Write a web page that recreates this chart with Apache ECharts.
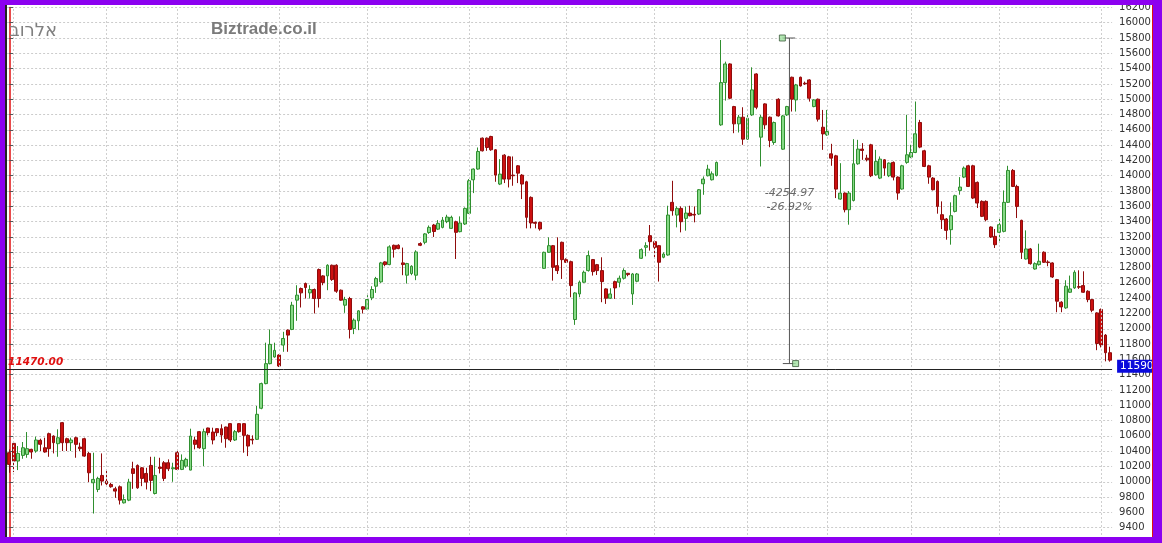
<!DOCTYPE html>
<html><head><meta charset="utf-8">
<script src="https://cdn.jsdelivr.net/npm/echarts@6/dist/echarts.min.js"></script>
<style>
html,body{margin:0;padding:0;background:#fff;}
#wrap{position:relative;width:1162px;height:543px;overflow:hidden;}
#chart{position:absolute;left:0;top:0;width:1162px;height:543px;}
#frame{position:absolute;left:0;top:0;width:1162px;height:543px;box-sizing:border-box;border-style:solid;border-color:#8c00f0;border-width:5px 9px 6px 5px;pointer-events:none;}
#edgeL{position:absolute;left:5px;top:5px;width:2px;height:532px;background:#222;pointer-events:none;}
#edgeR{position:absolute;left:1152px;top:5px;width:1px;height:532px;background:#e01010;pointer-events:none;}
</style></head>
<body>
<div id="wrap"><div id="chart"></div><div id="edgeL"></div><div id="edgeR"></div><div id="frame"></div></div>
<script>
// [open, close, low, high] per trading day
const candles = [
[10380,10227,10118,10424],[10502,10271,10127,10511],[10271,10371,10153,10467],[10345,10445,10301,10520],[10358,10433,10314,10650],
[10424,10389,10301,10432],[10402,10546,10380,10590],[10542,10490,10402,10563],[10445,10389,10380,10576],[10629,10433,10327,10642],
[10598,10511,10371,10607],[10498,10576,10327,10686],[10773,10511,10402,10782],[10563,10511,10402,10576],[10511,10546,10402,10576],
[10576,10489,10314,10590],[10454,10433,10402,10511],[10563,10336,10327,10576],[10371,10118,9996,10389],[9987,10031,9585,10380],
[9900,10044,9865,10066],[10083,10009,9952,10371],[10009,9974,9935,10148],[9965,9935,9922,9987],[9908,9878,9790,9935],
[9935,9760,9703,9952],[9725,9768,9716,9834],[9760,9996,9747,10039],[10170,10109,9908,10262],[10214,9921,9908,10227],
[10183,10044,9943,10192],[10109,9996,9900,10183],[10214,10018,9878,10327],[9847,10083,9834,10327],[10192,10175,10109,10314],
[10249,10044,10009,10271],[10249,10170,10140,10293],[10170,10183,10000,10249],[10380,10162,10153,10402],[10162,10280,10153,10358],
[10205,10293,10183,10314],[10153,10598,10150,10694],[10546,10489,10424,10590],[10655,10445,10432,10664],[10433,10655,10205,10694],
[10703,10642,10607,10707],[10650,10546,10489,10707],[10694,10642,10598,10699],[10694,10611,10511,10751],[10716,10563,10445,10720],
[10760,10546,10520,10764],[10546,10655,10533,10677],[10760,10655,10642,10764],[10760,10607,10380,10764],[10607,10467,10336,10620],
[10555,10546,10489,10607],[10555,10882,10546,10991],[10961,11283,10948,11296],[11283,11544,11274,11818],[11544,11796,11535,11991],
[11631,11718,11622,11818],[11657,11513,11500,11666],[11787,11873,11699,11960],[11982,11917,11699,11991],[11991,12308,11982,12352],
[12374,12439,12104,12569],[12526,12469,12278,12539],[12591,12539,12395,12604],[12469,12513,12395,12569],[12513,12395,12200,12526],
[12774,12395,12278,12787],[12691,12604,12569,12700],[12691,12830,12504,12843],[12830,12643,12626,12839],[12830,12491,12469,12843],
[12504,12374,12365,12513],[12308,12382,12208,12417],[12395,11991,11873,12417],[12004,12113,11930,12135],[12104,12234,11982,12243],
[12287,12256,12200,12295],[12256,12382,12243,12439],[12404,12513,12374,12556],[12556,12656,12469,12678],[12613,12861,12600,12874],
[12874,12839,12817,12882],[12839,13070,12830,13091],[13091,13039,12930,13100],[13091,13048,13039,13104],[12861,12839,12700,13061],
[12700,12852,12591,12861],[12722,12817,12700,12830],[12700,13004,12635,13026],[13113,13091,13080,13130],[13130,13240,13104,13250],
[13258,13325,13240,13350],[13356,13271,13200,13370],[13302,13378,13290,13420],[13325,13420,13312,13460],[13400,13460,13380,13490],
[13312,13456,13304,13478],[13399,13260,12912,13412],[13269,13382,13260,13469],[13369,13573,13356,13586],[13508,13934,13499,13956],
[13947,14087,13773,14095],[14087,14317,14078,14369],[14491,14326,14317,14500],[14491,14369,14326,14500],[14513,14339,14326,14522],
[14339,14008,13921,14348],[13891,14021,13878,14217],[14269,13956,13904,14282],[14247,13956,13847,14260],[14008,14000,13869,14252],
[14130,14034,13904,14139],[14008,13891,13695,14021],[13921,13456,13312,13934],[13717,13382,13312,13730],[13391,13378,13312,13400],
[13391,13304,13282,13399],[12790,12999,12782,13008],[12999,13086,12990,13195],[13086,12803,12629,13095],[12825,12760,12716,13195],
[13130,12903,12651,13139],[12903,12869,12860,12921],[12877,12564,12412,12890],[12121,12468,12051,12477],[12455,12608,12412,12630],
[12608,12738,12599,12760],[12760,12956,12747,13021],[12904,12747,12695,12912],[12838,12760,12703,12847],[12760,12616,12347,12934],
[12521,12399,12325,12529],[12399,12455,12390,12529],[12616,12534,12390,12629],[12608,12660,12542,12695],[12660,12760,12643,12790],
[12725,12708,12686,12729],[12455,12716,12312,12729],[12621,12716,12608,12729],[12921,13034,12912,13051],[13065,13086,12947,13130],
[13217,13138,13021,13356],[13138,13065,12934,13151],[13086,12869,12617,13095],[12934,12977,12921,12999],[12964,13486,12955,13608],
[13652,13543,13478,13934],[13486,13573,13325,13599],[13573,13399,13260,13599],[13443,13512,13282,13599],[13512,13478,13469,13608],
[13495,13486,13391,13599],[13499,13817,13486,13826],[13895,13956,13751,13991],[14000,14086,13991,14143],[13947,14025,13938,14056],
[14004,14173,13991,14186],[14665,15217,14652,15774],[15217,15461,14982,15491],[15461,15013,15000,15469],[14904,14678,14556,14913],
[14678,14765,14565,14795],[14765,14478,14404,14895],[14478,14752,14469,14795],[14795,15122,14782,15417],[15330,14895,14869,15339],
[14504,14765,14121,14795],[14939,14665,14608,14947],[14765,14460,14373,14774],[14434,14695,14404,14708],[14999,14782,14773,15013],
[14347,14782,14338,14795],[14795,14904,14782,14913],[15287,15000,14839,15295],[14991,15187,14839,15200],[15287,15174,15165,15295],
[15209,15200,15187,15230],[15252,15013,14969,15261],[14904,14991,14895,15000],[15000,14739,14708,15009],[14634,14547,14338,14860],
[14534,14578,14521,14860],[14286,14230,14130,14417],[14260,13825,13708,14273],[13695,13773,13686,14164],[13773,13556,13521,13782],
[13556,13773,13360,13800],[13677,14156,13664,14478],[14156,14348,14143,14469],[14348,14330,14208,14426],[14230,14209,14187,14274],
[14404,14000,13982,14417],[14013,14187,14000,14339],[13969,14217,13956,14252],[14208,14100,14000,14217],[14000,14165,13982,14174],
[14174,13982,13939,14187],[13982,13773,13686,13991],[13826,14130,13817,14143],[14174,14274,14156,14796],[14243,14304,14230,14404],
[14304,14548,14295,14970],[14696,14374,14360,14730],[14326,14121,14113,14339],[14130,13982,13895,14143],[13969,13817,13808,13982],
[13925,13599,13504,13939],[13491,13425,13304,13665],[13434,13286,13164,13447],[13295,13478,13099,13652],[13534,13739,13521,13752],
[13808,13852,13752,13982],[13982,14100,13969,14121],[14130,13860,13852,14143],[14130,13708,13695,14143],[13913,13643,13578,13925],
[13665,13469,13460,13678],[13665,13425,13404,13678],[13330,13199,13186,13339],[13208,13099,13056,13304],[13260,13360,13121,13447],
[13273,13652,13260,13808],[13652,14069,13643,14130],[14069,13860,13852,14087],[13860,13599,13447,13882],[13417,12999,12912,13425],
[12912,13043,12904,13286],[13043,12851,12838,13056],[12781,12851,12773,12868],[12838,12882,12825,13112],[13000,12869,12860,13012],
[12873,12865,12817,12895],[12860,12677,12664,12869],[12642,12360,12216,12651],[12347,12286,12216,12360],[12273,12556,12260,12634],
[12477,12521,12469,12695],[12534,12738,12521,12764],[12551,12543,12521,12764],[12564,12477,12469,12751],[12490,12381,12347,12503],
[12381,12242,12216,12390],[12207,11807,11720,12216],[12252,11787,11756,12265],[11917,11687,11574,11930],[11687,11590,11570,11765]
];
const categories = candles.map((_, i) => 'D' + (i + 1));
const monthStarts = [1, 22, 38, 61, 81, 104, 126, 146, 167, 185, 204, 224, 247];
const refLevel = 11470;
const refLabel = '11470.00';
const lastPrice = 11590;
const lastLabel = '11590';
const yMin = 9200, yMax = 16200, yStep = 200;
// measurement tool (index position, from value, to value)
const measureX = [174.9, 176.5, 177.9];
const measureFrom = 15800;
const measureTo = 11545.03;
const measureText = ['-4254.97', '-26.92%'];
const measureTextAt = 13682;
const brand = 'Biztrade.co.il';
const symbolName = 'אלרוב';
const topNote = 'M:11750.00';

const chart = echarts.init(document.getElementById('chart'), null, {renderer: 'canvas'});
const n = categories.length;
const option = {
  animation: false,
  backgroundColor: '#ffffff',
  grid: {left: 7.1, right: 49.9, top: 7.4, bottom: 0, containLabel: false},
  xAxis: [
    {type: 'category', data: categories, boundaryGap: true,
     axisLine: {show: false}, axisTick: {show: false}, axisLabel: {show: false}, splitLine: {show: false}},
    {type: 'value', min: -0.5, max: n - 0.5, show: false, splitLine: {show: false}}
  ],
  yAxis: {
    type: 'value', position: 'right', min: yMin, max: yMax, interval: yStep, offset: 5,
    axisLine: {show: true, lineStyle: {color: '#e01010', width: 1.5}},
    axisTick: {show: true, length: 4, lineStyle: {color: '#555'}},
    axisLabel: {margin: 2, fontSize: 10, color: '#333', fontFamily: 'DejaVu Sans', showMinLabel: false,
                formatter: v => String(v)},
    splitLine: {show: true, lineStyle: {color: '#cccccc', type: [2, 2], width: 1}}
  },
  graphic: [
    {type: 'text', x: 57, y: 22, z: 10,
     style: {text: symbolName, font: '18px "DejaVu Sans"', fill: '#808080', align: 'right', verticalAlign: 'top'}},
    {type: 'text', left: 211, top: 21, z: 10, style: {text: brand, font: 'bold 17px "Liberation Sans"', fill: '#7b7b7b'}},
    {type: 'text', left: 19, top: -3, z: 10, style: {text: topNote, font: '10px "DejaVu Sans"', fill: '#4455aa'}}
  ],
  series: [
    {
      type: 'line', xAxisIndex: 1, data: [], z: 1, silent: true,
      markLine: {silent: true, symbol: ['none', 'none'], animation: false,
        label: {show: false},
        lineStyle: {color: '#cfcfcf', type: [2, 2], width: 1},
        data: monthStarts.map(i => ({xAxis: i}))}
    },
    {
      type: 'candlestick', data: candles, barWidth: 3.4, z: 3,
      itemStyle: {color: '#86d986', color0: '#cc1010', borderColor: '#2f8f2f', borderColor0: '#8f0c0c',
                  borderColorDoji: '#333', borderWidth: 1},
      markLine: {silent: true, symbol: ['none', 'none'], animation: false,
        data: [
          {yAxis: refLevel, lineStyle: {color: '#222', type: 'solid', width: 1},
           label: {show: true, position: 'insideStartTop', formatter: refLabel, color: '#e01010',
                   fontStyle: 'italic', fontWeight: 'bold', fontSize: 10.5, fontFamily: 'DejaVu Sans', distance: [1, 2]}},
          {yAxis: lastPrice, lineStyle: {color: 'rgba(0,0,0,0)', width: 0},
           label: {show: true, position: 'end', formatter: lastLabel, color: '#ffffff', backgroundColor: '#0a0adc',
                   fontSize: 10.5, fontFamily: 'DejaVu Sans', padding: [1, 3, 1, 3], distance: 5, offset: [0, 6]}}
        ]}
    },
    {type: 'line', xAxisIndex: 1, data: [[measureX[1], measureFrom], [measureX[1], measureTo]], symbol: 'none', z: 5,
     silent: true, lineStyle: {color: '#555', width: 1}},
    {type: 'line', xAxisIndex: 1, data: [[measureX[0], measureFrom], [measureX[2] - 0.1, measureFrom]], symbol: 'none', z: 5,
     silent: true, lineStyle: {color: '#555', width: 1}},
    {type: 'line', xAxisIndex: 1, data: [[measureX[0] + 0.1, measureTo], [measureX[2], measureTo]], symbol: 'none', z: 5,
     silent: true, lineStyle: {color: '#555', width: 1}},
    {type: 'scatter', xAxisIndex: 1, data: [[measureX[0], measureFrom], [measureX[2], measureTo]], symbol: 'rect', symbolSize: 6, z: 6,
     silent: true, itemStyle: {color: '#9fe09f', borderColor: '#3d5d3d', borderWidth: 1}},
    {type: 'scatter', xAxisIndex: 1, data: [[measureX[1], measureTextAt]], symbolSize: 0, z: 6, silent: true,
     label: {show: true, position: 'inside', formatter: measureText.join('\n'), color: '#444', fontStyle: 'italic',
             fontSize: 11, lineHeight: 14, fontFamily: 'DejaVu Sans'}}
  ]
};
chart.setOption(option);
</script>
</body></html>
